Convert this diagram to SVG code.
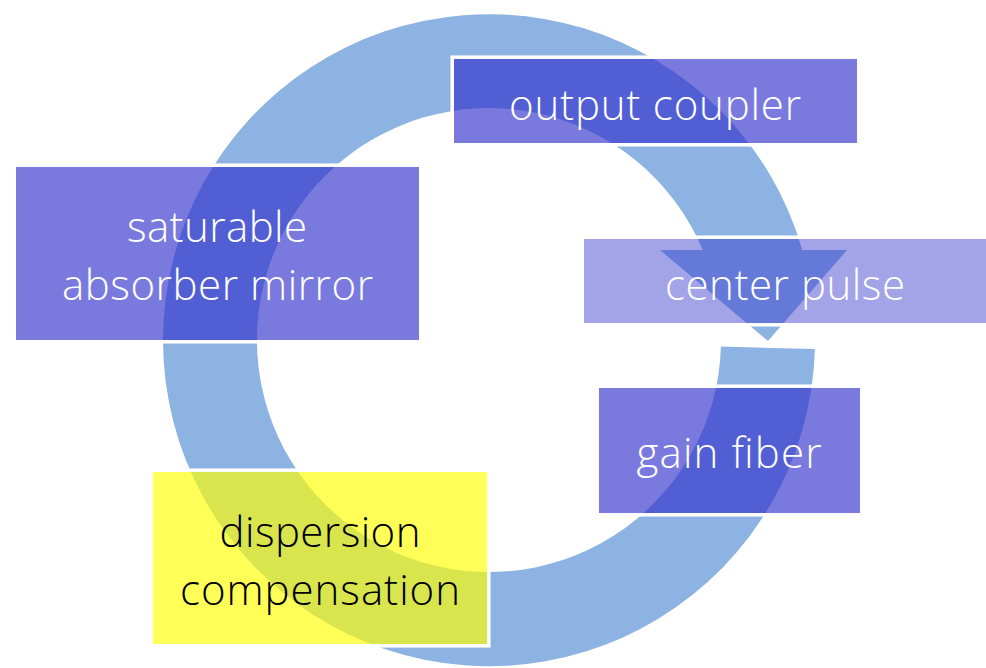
<svg xmlns="http://www.w3.org/2000/svg" width="986" height="668" viewBox="0 0 986 668">
  <style>
    .ring { fill: #8DB3E2; }
    .box { fill: #3333CC; fill-opacity: 0.65; }
    .box.light { fill-opacity: 0.45; }
    .box.yellow { fill: #FFFF00; fill-opacity: 0.66; }
    .edge { fill: none; stroke: #FFFFFF; stroke-width: 3.5; }
    .lbl { font-family: "Open Sans", "Liberation Sans", sans-serif; font-weight: 300; font-size: 42px; text-anchor: middle; fill: #FFFFFF; }
    .lbl.dark { fill: #000000; }
  </style>

  <!-- circular arrow running clockwise around the loop -->
  <g id="connectors">
    <path class="ring" d="M 814.9 349.1 A 326 326 0 1 1 802.3 250 L 847 250 L 768 341 L 660 250 L 702.8 250 A 232 232 0 1 0 720.9 346.5 Z"/>
  </g>

  <g id="output-coupler">
    <rect class="edge" x="452.2" y="57.2" width="406.6" height="87.6"/>
    <rect class="box" x="454" y="59" width="403" height="84"/>
    <text class="lbl" x="655" y="120" textLength="292">output coupler</text>
  </g>

  <g id="center-pulse">
    <rect class="edge" x="582.2" y="237.2" width="405.6" height="87.6"/>
    <rect class="box light" x="584" y="239" width="402" height="84"/>
    <text class="lbl" x="785" y="300" textLength="240">center pulse</text>
  </g>

  <g id="gain-fiber">
    <rect class="edge" x="597.2" y="386.2" width="264.6" height="128.6"/>
    <rect class="box" x="599" y="388" width="261" height="125"/>
    <text class="lbl" x="729" y="468" textLength="185">gain fiber</text>
  </g>

  <g id="saturable-absorber-mirror">
    <rect class="edge" x="14.2" y="165.2" width="406.6" height="176.6"/>
    <rect class="box" x="16" y="167" width="403" height="173"/>
    <text class="lbl" x="217" y="242" textLength="180">saturable</text>
    <text class="lbl" x="217.5" y="300" textLength="311">absorber mirror</text>
  </g>

  <g id="dispersion-compensation">
    <rect class="edge" x="151.2" y="470.2" width="337.6" height="175.6"/>
    <rect class="box yellow" x="153" y="472" width="334" height="172"/>
    <text class="lbl dark" x="320" y="547" textLength="201">dispersion</text>
    <text class="lbl dark" x="320" y="605" textLength="280">compensation</text>
  </g>
</svg>
